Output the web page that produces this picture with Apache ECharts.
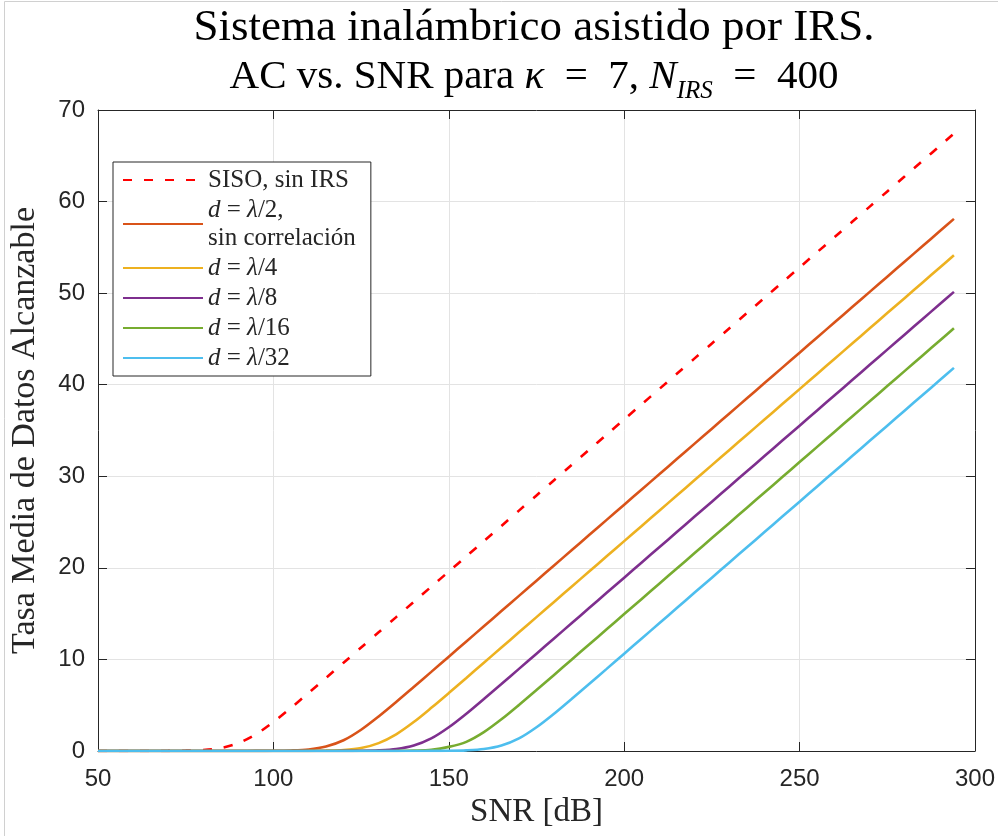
<!DOCTYPE html>
<html>
<head>
<meta charset="utf-8">
<script src="https://cdn.jsdelivr.net/npm/echarts@6/dist/echarts.min.js"></script>
<style>
html,body{margin:0;padding:0;background:#fff;}
#chart{width:998px;height:836px;}
</style>
</head>
<body>
<div id="chart"></div>
<script>
// SNR grid [dB]
var snr = [50,55,60,65,70,75,80,85,90,95,100,105,110,115,120,125,130,135,140,145,150,155,160,165,170,175,180,185,190,195,200,205,210,215,220,225,230,235,240,245,250,255,260,265,270,275,280,285,290,294];

var sisoSinIRS = [0,0,0,0,0.01,0.04,0.11,0.32,0.86,1.82,3.17,4.71,6.33,7.98,9.64,11.30,12.96,14.62,16.28,17.94,19.60,21.26,22.92,24.58,26.25,27.91,29.57,31.23,32.89,34.55,36.21,37.87,39.53,41.19,42.85,44.51,46.17,47.83,49.49,51.15,52.81,54.47,56.13,57.79,59.45,61.11,62.77,64.43,66.09,67.42];

var dLambda2 = [0,0,0,0,0,0,0,0,0,0.01,0.02,0.06,0.17,0.49,1.17,2.32,3.77,5.35,6.99,8.64,10.30,11.96,13.62,15.28,16.94,18.60,20.26,21.92,23.58,25.24,26.90,28.56,30.22,31.88,33.54,35.20,36.86,38.52,40.18,41.84,43.50,45.16,46.82,48.48,50.14,51.80,53.46,55.12,56.78,58.11];

var dLambda4 = [0,0,0,0,0,0,0,0,0,0,0,0,0.01,0.04,0.11,0.32,0.86,1.82,3.16,4.71,6.33,7.98,9.64,11.30,12.96,14.62,16.28,17.94,19.60,21.26,22.92,24.58,26.24,27.90,29.56,31.22,32.88,34.54,36.20,37.86,39.52,41.18,42.84,44.50,46.16,47.82,49.48,51.14,52.80,54.13];

var dLambda8 = [0,0,0,0,0,0,0,0,0,0,0,0,0,0,0.01,0.02,0.07,0.21,0.59,1.37,2.59,4.07,5.68,7.32,8.97,10.63,12.29,13.95,15.61,17.27,18.93,20.59,22.25,23.91,25.57,27.23,28.89,30.55,32.21,33.87,35.53,37.19,38.85,40.51,42.17,43.83,45.49,47.15,48.81,50.14];

var dLambda16 = [0,0,0,0,0,0,0,0,0,0,0,0,0,0,0,0,0,0.01,0.05,0.14,0.45,1.00,2.06,3.46,5.03,6.66,8.31,9.97,11.63,13.29,14.95,16.61,18.27,19.93,21.59,23.25,24.91,26.57,28.23,29.89,31.55,33.21,34.87,36.53,38.19,39.85,41.51,43.17,44.83,46.16];

var dLambda32 = [0,0,0,0,0,0,0,0,0,0,0,0,0,0,0,0,0,0,0,0.01,0.02,0.07,0.21,0.59,1.37,2.59,4.07,5.68,7.32,8.97,10.63,12.29,13.95,15.61,17.27,18.93,20.59,22.25,23.91,25.57,27.23,28.89,30.55,32.21,33.87,35.53,37.19,38.85,40.51,41.84];

var xTicks = [50,100,150,200,250,300];
var yTicks = [0,10,20,30,40,50,60,70];

var seriesNames = ['siso','l2','l4','l8','l16','l32'];
var seriesValues = [sisoSinIRS,dLambda2,dLambda4,dLambda8,dLambda16,dLambda32];
var seriesColors = ['#FF0000','#D95319','#EDB120','#7E2F8E','#77AC30','#4DBEEE'];
var legendLabels = {
  siso: '{r|SISO, sin IRS}',
  l2: '{i|d}{r| = }{i|λ}{r|/2,}\n{r|sin correlación}',
  l4: '{i|d}{r| = }{i|λ}{r|/4}',
  l8: '{i|d}{r| = }{i|λ}{r|/8}',
  l16: '{i|d}{r| = }{i|λ}{r|/16}',
  l32: '{i|d}{r| = }{i|λ}{r|/32}'
};

var SERIF = '"Liberation Serif", "DejaVu Serif", serif';
var SANS = '"Liberation Sans", Arial, sans-serif';
var AX = '#262626';

var chart = echarts.init(document.getElementById('chart'), null, {renderer:'canvas'});

var series = seriesNames.map(function(n, k){
  return {
    name: n,
    type: 'line',
    xAxisIndex: 0,
    yAxisIndex: 0,
    showSymbol: false,
    symbol: 'none',
    smooth: 0.3,
    animation: false,
    z: 3,
    lineStyle: {
      color: seriesColors[k],
      width: 2.6,
      type: k === 0 ? [9,12] : 'solid'
    },
    itemStyle: {color: seriesColors[k]},
    data: snr.map(function(x,i){ return [x, seriesValues[k][i]]; })
  };
});

var option = {
  backgroundColor: '#ffffff',
  animation: false,
  grid: {left: 95, right: 23, top: 110, bottom: 85, containLabel: false},
  legend: {
    show: true,
    left: 113,
    top: 162,
    orient: 'vertical',
    backgroundColor: '#ffffff',
    borderColor: '#262626',
    borderWidth: 1,
    borderRadius: 0,
    padding: [4, 15, 4, 9],
    itemGap: 2,
    itemWidth: 80,
    itemHeight: 14,
    selectedMode: false,
    itemStyle: {opacity: 0},
    data: seriesNames,
    formatter: function(name){ return legendLabels[name]; },
    textStyle: {
      fontFamily: SERIF,
      fontSize: 25,
      color: AX,
      lineHeight: 28,
      rich: {
        r: {fontFamily: SERIF, fontSize: 25, color: AX, lineHeight: 28},
        i: {fontFamily: SERIF, fontSize: 25, fontStyle: 'italic', color: AX, lineHeight: 28}
      }
    }
  },
  xAxis: [{
    type: 'value',
    position: 'bottom',
    min: 50, max: 300, interval: 50,
    name: 'SNR [dB]',
    nameLocation: 'middle',
    nameGap: 45,
    nameTextStyle: {fontFamily: SERIF, fontSize: 33, color: AX},
    axisLine: {show: true, onZero: false, lineStyle: {color: AX, width: 1}},
    axisTick: {show: true, inside: true, length: 9, lineStyle: {color: AX}},
    axisLabel: {show: true, margin: 16, fontFamily: SANS, fontSize: 24, color: AX,
      formatter: function(v){ return xTicks.indexOf(v) >= 0 ? String(v) : ''; }},
    splitLine: {show: true, lineStyle: {color: '#e3e3e3', width: 1}}
  },{
    type: 'value',
    position: 'top',
    min: 50, max: 300, interval: 50,
    axisLine: {show: true, onZero: false, lineStyle: {color: AX, width: 1}},
    axisTick: {show: true, inside: true, length: 9, lineStyle: {color: AX}},
    axisLabel: {show: false},
    splitLine: {show: false}
  }],
  yAxis: [{
    type: 'value',
    position: 'left',
    min: 0, max: 70, interval: 10,
    name: 'Tasa Media de Datos Alcanzable',
    nameLocation: 'middle',
    nameGap: 56,
    nameTextStyle: {fontFamily: SERIF, fontSize: 34, color: AX},
    axisLine: {show: true, onZero: false, lineStyle: {color: AX, width: 1}},
    axisTick: {show: true, inside: true, length: 9, lineStyle: {color: AX}},
    axisLabel: {show: true, margin: 13, fontFamily: SANS, fontSize: 24, color: AX,
      formatter: function(v){ return yTicks.indexOf(v) >= 0 ? String(v) : ''; }},
    splitLine: {show: true, lineStyle: {color: '#e3e3e3', width: 1}}
  },{
    type: 'value',
    position: 'right',
    min: 0, max: 70, interval: 10,
    axisLine: {show: true, onZero: false, lineStyle: {color: AX, width: 1}},
    axisTick: {show: true, inside: true, length: 9, lineStyle: {color: AX}},
    axisLabel: {show: false},
    splitLine: {show: false}
  }],
  graphic: [
    {
      type: 'text',
      z: 10,
      x: 534, y: 28,
      style: {
        text: 'Sistema inalámbrico asistido por IRS.',
        x: 0, y: 0,
        align: 'center', verticalAlign: 'middle',
        fontFamily: SERIF, fontSize: 45, fill: '#000'
      }
    },
    {
      type: 'text',
      z: 10,
      x: 534, y: 77,
      style: {
        text: '{r|AC vs. SNR para }{i|κ}{r|  =  7, }{i|N}{s|IRS}{r|  =  400}',
        x: 0, y: 0,
        align: 'center', verticalAlign: 'middle',
        fontFamily: SERIF, fontSize: 41, fill: '#000',
        rich: {
          r: {fontFamily: SERIF, fontSize: 41, fill: '#000', lineHeight: 45},
          i: {fontFamily: SERIF, fontSize: 41, fontStyle: 'italic', fill: '#000', lineHeight: 45},
          s: {fontFamily: SERIF, fontSize: 25, fontStyle: 'italic', fill: '#000', lineHeight: 25, padding: [29,0,0,0]}
        }
      }
    },
    {
      type: 'polyline',
      z: 0,
      shape: {points: [[4.5, 836], [4.5, 1.5], [998, 1.5]]},
      style: {stroke: '#d0d0d0', lineWidth: 1, fill: null}
    }
  ],
  series: series
};

chart.setOption(option);
</script>
</body>
</html>
